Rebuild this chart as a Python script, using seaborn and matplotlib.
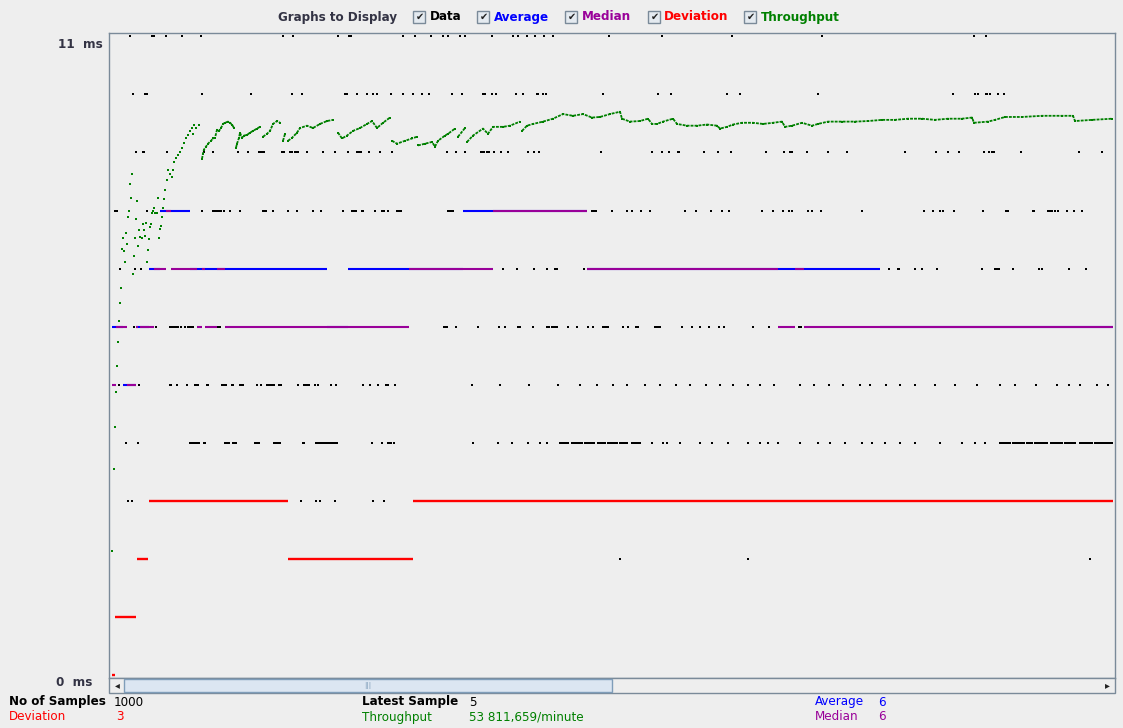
import numpy as np
import pandas as pd
import matplotlib
matplotlib.use("Agg")
import matplotlib.pyplot as plt
from matplotlib.patches import Rectangle
import seaborn as sns

# ---- data read off the JMeter "Graph Results" screenshot ----
# sample index (0..1000) where a black data dot is visible, per elapsed level (ms)
# tuples are inclusive runs of consecutive samples
hits_11ms = [18, 40, 42, 54, 70, 89, 171, 181, 226, 237, 239, 291, 303, 319, 331, 336, 348, 353,
             380, 401, 406, 415, 423, 432, 441, 497, 550, 620, 710, 862, 874]
hits_10ms = [21, 33, 35, 90, 139, 180, 190, (233, 235), 245, 255, 261, 265, 279, 291, 301, 310, 317,
             340, 350, 371, 373, 380, 384, 404, 411, 425, 426, 431, 434, 491, 546, 559, 615, 628,
             706, 841, 863, 866, 874, 875, 878, 886, 892]
hits_9ms = [24, 31, 32, 55, 92, 101, 126, 136, (147, 152), (170, 172), (178, 180), (183, 186), 195,
            211, 223, 236, (245, 249), 257, 268, 280, 335, 344, 353, (369, 372), (375, 377), 382,
            389, 396, 416, 422, 427, 489, 540, 550, 557, 566, 567, 592, 606, 619, 654, 672,
            (678, 680), 695, 716, 735, 793, 824, 836, 847, 872, 877, 880, 882, 909, 967, 990]
hits_8ms = [3, 5, 35, 90, (101, 109), 112, 118, 128, (151, 154), 161, 176, 185, 201, 209, 231,
            (240, 244), (250, 251), 263, 270, 272, 276, (285, 289), (336, 341), (480, 484), 500,
            515, 520, 529, 538, 573, 584, 599, 610, 617, 650, 661, 671, 677, 680, 696, 700, 709,
            750, 812, 821, 828, 831, 842, 871, 894, 896, 921, 922, (936, 940), 943, 946, 955,
            962, 970]
hits_7ms = [8, 23, 29, 391, 405, 422, 435, (443, 445), 472, 777, 786, 787, 803, 810, 825, 870,
            (883, 887), 901, 927, 930, 957, 974]
hits_6ms = [22, 44, 58, 60, 62, 64, 66, 69, 73, 76, 78, 80, 81, (106, 108), (332, 335), 344, 366,
            387, 393, (406, 408), 421, (435, 437), (440, 441), (443, 445), 456, 465, 476, 481,
            (491, 496), 511, 516, 524, 526, (543, 548), 570, 580, 588, 597, 607, 612, 641, 657,
            687, 689]
hits_5ms = [7, 27, 58, 59, 65, 75, 83, 85, 86, 95, 96, (110, 114), (120, 121), (128, 131), 145,
            149, (155, 162), (167, 169), 186, (192, 197), 203, 206, 219, 224, 251, 258, 266,
            (274, 276), 283, 360, 388, 417, 446, 468, 485, 501, 515, 533, 548, 564, 578, 594,
            608, 621, 636, 648, 662, 688, 702, 717, 731, 748, 758, 774, 788, 803, 823, 843, 865,
            888, 903, 924, 945, 957, 968, 985, 996]
hits_4ms = [14, 26, (78, 80), (82, 87), (92, 93), (113, 117), (121, 124), (143, 147), (162, 168),
            (191, 192), (204, 208), (210, 223), 225, 260, 270, (276, 279), 282, 361, 386, 400,
            416, 428, 435, (448, 456), (460, 470), (473, 482), (486, 493), (496, 505), (508, 515),
            (520, 528), 540, 551, 555, 568, 588, 600, 616, 636, 648, 656, 666, 688, 706, 718,
            733, 750, 760, 773, 788, 803, 828, 850, 863, 873, (888, 898), (901, 912), (915, 920),
            (923, 935), (939, 950), (953, 963), (968, 980), (983, 1000)]
hits_3ms = [16, 20, 189, 204, 208, 223, 261, 272]
hits_2ms = [508, 636, 978]

# running statistics as (first sample, last sample, value in ms)
avg_runs = [(0, 4, 6), (4, 11, 6), (11, 15, 5), (15, 24, 5), (24, 28, 6), (28, 37, 6),
            (37, 48, 7), (48, 78, 8), (78, 215, 7), (215, 236, 6), (236, 351, 7),
            (351, 475, 8), (475, 768, 7), (768, 1001, 6)]
median_runs = [(0, 4, 5), (4, 15, 6), (15, 24, 5), (24, 26, 6), (28, 42, 6), (42, 54, 7),
               (54, 59, 8), (59, 85, 7), (85, 90, 6), (90, 93, 7), (93, 105, 6), (105, 113, 7),
               (113, 297, 6), (297, 381, 7), (381, 475, 8), (475, 666, 7), (666, 683, 6),
               (683, 692, 7), (692, 1001, 6)]
deviation_runs = [(0, 3, 0), (3, 24, 1), (25, 36, 2), (37, 176, 3), (176, 301, 2), (301, 1001, 3)]

# throughput, scaled by JMeter onto the ms axis (final value 53 811,659/minute)
thr_sample = [0, 2, 3, 4, 5, 6, 7, 8, 9, 10, 11, 12, 13, 14, 15, 16, 17, 18, 19, 20, 21, 22, 23,
              24, 25, 26, 27, 28, 30, 31, 32, 33, 34, 35, 36, 37, 38, 39, 40, 41, 42, 43, 45, 46,
              47, 48, 49, 50, 51, 52, 53, 55, 56, 58, 60, 61, 62, 64, 66, 68, 70, 72, 74, 76, 78,
              80, 81, 82, 84, 87, 90, 91, 92, 94, 96, 99, 101, 103, 105, 107, 109, 111, 113, 116,
              118, 120, 122, 124, 125, 127, 128, 130, 132, 135, 138, 141, 145, 148, 151, 155,
              158, 161, 165, 168, 171, 173, 176, 180, 185, 188, 195, 201, 208, 215, 221, 226,
              230, 235, 241, 248, 255, 260, 265, 271, 278, 280, 285, 293, 300, 305, 306, 313,
              320, 323, 326, 333, 336, 343, 346, 353, 355, 361, 371, 376, 381, 391, 398, 408,
              410, 415, 421, 431, 441, 451, 461, 471, 480, 488, 498, 508, 510, 518, 528, 536,
              540, 545, 551, 561, 565, 575, 585, 595, 605, 608, 615, 621, 630, 641, 651, 661,
              670, 673, 680, 690, 700, 706, 716, 730, 743, 756, 770, 783, 796, 810, 823, 836,
              850, 860, 862, 876, 883, 893, 910, 930, 950, 961, 963, 980, 1000]
thr_value = [2.14, 3.56, 4.27, 4.87, 5.33, 5.74, 6.10, 6.41, 6.67, 7.33, 7.52, 7.30, 7.11, 7.62,
             7.42, 7.88, 8.00, 8.45, 8.21, 8.62, 6.91, 7.21, 7.52, 7.85, 8.16, 7.39, 7.66, 7.54,
             7.52, 7.76, 7.66, 7.56, 7.78, 7.11, 7.32, 7.51, 7.71, 7.76, 7.95, 8.00, 8.05, 7.95,
             7.95, 8.22, 7.52, 7.69, 7.73, 7.88, 8.04, 8.19, 8.36, 8.53, 8.69, 8.62, 8.57, 8.70,
             8.84, 8.91, 8.96, 9.01, 9.08, 9.17, 9.25, 9.30, 9.37, 9.42, 9.32, 9.48, 9.42, 9.48,
             8.89, 8.98, 9.05, 9.10, 9.15, 9.20, 9.24, 9.25, 9.39, 9.37, 9.42, 9.49, 9.51, 9.53,
             9.51, 9.48, 9.42, 9.08, 9.15, 9.25, 9.34, 9.25, 9.29, 9.30, 9.34, 9.37, 9.41, 9.44,
             9.27, 9.32, 9.37, 9.49, 9.54, 9.51, 9.20, 9.32, 9.20, 9.25, 9.34, 9.42, 9.46, 9.42,
             9.49, 9.54, 9.56, 9.34, 9.24, 9.29, 9.37, 9.42, 9.49, 9.54, 9.42, 9.51, 9.60, 9.20,
             9.15, 9.20, 9.24, 9.27, 9.12, 9.15, 9.18, 9.10, 9.20, 9.29, 9.32, 9.41, 9.27, 9.42,
             9.18, 9.29, 9.41, 9.32, 9.44, 9.44, 9.46, 9.53, 9.37, 9.46, 9.49, 9.53, 9.58, 9.66,
             9.63, 9.66, 9.60, 9.61, 9.66, 9.70, 9.58, 9.53, 9.54, 9.58, 9.49, 9.49, 9.53, 9.58,
             9.49, 9.46, 9.46, 9.48, 9.46, 9.41, 9.44, 9.48, 9.51, 9.51, 9.49, 9.51, 9.53, 9.44,
             9.46, 9.51, 9.46, 9.49, 9.53, 9.53, 9.53, 9.54, 9.56, 9.56, 9.58, 9.58, 9.56, 9.58,
             9.58, 9.60, 9.51, 9.53, 9.56, 9.61, 9.61, 9.63, 9.63, 9.63, 9.54, 9.56, 9.58]

legend_labels = ["Data", "Average", "Median", "Deviation", "Throughput"]


def expand(items):
    out = []
    for it in items:
        if isinstance(it, tuple):
            out.extend(range(it[0], it[1] + 1))
        else:
            out.append(it)
    return out


levels = {11: hits_11ms, 10: hits_10ms, 9: hits_9ms, 8: hits_8ms, 7: hits_7ms,
          6: hits_6ms, 5: hits_5ms, 4: hits_4ms, 3: hits_3ms, 2: hits_2ms}
rows = [(s, ms) for ms, hits in levels.items() for s in expand(hits)]
df_data = pd.DataFrame(rows, columns=["sample", "elapsed"])

df_thr = pd.DataFrame({"sample": thr_sample, "throughput": thr_value})
# break the throughput trace at every sudden drop (sawtooth), like the dotted JMeter trace
late = df_thr[df_thr["sample"] >= 87].copy()
late["segment"] = (late["throughput"].diff() < -0.12).cumsum()

BG = "#eeeeee"
BLACK, BLUE, PURPLE, RED, GREEN = "#000000", "#0000ff", "#990099", "#ff0000", "#008000"
FRAME = "#7a8a99"

sns.set_theme(style="white")
plt.rcParams["font.family"] = ["DejaVu Sans"]

W, H = 1123, 728
fig = plt.figure(figsize=(W / 100, H / 100), dpi=100, facecolor=BG)


def fx(x):
    return x / W


def fy(y):
    return 1 - y / H


ax = fig.add_axes([fx(109), fy(678), (1115 - 109) / W, (678 - 33) / H])
ax.set_facecolor(BG)

# data dots
sns.scatterplot(data=df_data, x="sample", y="elapsed", ax=ax, marker="s", s=2.4,
                color=BLACK, linewidth=0, legend=False, zorder=2)

# average / median / deviation
for s0, s1, v in avg_runs:
    ax.hlines(v, s0, s1, color=BLUE, lw=1.5, zorder=3)
for s0, s1, v in median_runs:
    ax.hlines(v, s0, s1, color=PURPLE, lw=1.5, zorder=4)
for s0, s1, v in deviation_runs:
    ax.hlines(v, s0, s1, color=RED, lw=1.7, zorder=5)

# throughput
sns.lineplot(data=late, x="sample", y="throughput", units="segment", estimator=None, ax=ax,
             color=GREEN, lw=1.3, linestyle=(0, (1.6, 0.6)), sort=True, zorder=6)
sns.scatterplot(data=df_thr, x="sample", y="throughput", ax=ax, marker="s", s=2.8,
                color=GREEN, linewidth=0, legend=False, zorder=6)

ax.set_xlim(-3, 1003)
ax.set_ylim(-0.045, 11.055)
ax.set_xticks([])
ax.set_yticks([])
ax.set_xlabel("")
ax.set_ylabel("")
for sp in ax.spines.values():
    sp.set_color(FRAME)
    sp.set_linewidth(1)

# y labels
fig.text(fx(103), fy(45), "11  ms", ha="right", va="center", fontsize=9.5,
         color="#333344", fontweight="bold", fontstretch="condensed")
fig.text(fx(92), fy(683), "0  ms", ha="right", va="center", fontsize=9.5,
         color="#333344", fontweight="bold", fontstretch="condensed")

# legend row
cond = dict(fontweight="bold", fontstretch="condensed", fontsize=9.5, va="center")
fig.text(fx(278), fy(17), "Graphs to Display", color="#333344", ha="left", **cond)
box_x = [413, 477, 565, 648, 744]
label_x = [430, 494, 582, 664, 761]
colors = [BLACK, BLUE, PURPLE, RED, GREEN]
for bx, lx, lab, c in zip(box_x, label_x, legend_labels, colors):
    fig.patches.append(Rectangle((fx(bx), fy(23)), 12 / W, 12 / H, transform=fig.transFigure,
                                 facecolor="#e4eaf0", edgecolor=FRAME, lw=1))
    fig.text(fx(bx + 6.5), fy(17), "\u2714", ha="center", va="center", fontsize=7, color="#222222")
    fig.text(fx(lx), fy(17), lab, color=c, ha="left", **cond)

# scrollbar
fig.patches.append(Rectangle((fx(109), fy(693)), (1115 - 109) / W, 15 / H,
                             transform=fig.transFigure, facecolor="#eeeeee",
                             edgecolor=FRAME, lw=1))
fig.patches.append(Rectangle((fx(124), fy(692)), (612 - 124) / W, 13 / H,
                             transform=fig.transFigure, facecolor="#dce6f2",
                             edgecolor="#7f9db9", lw=1))
fig.text(fx(117), fy(685.5), "\u25c2", ha="center", va="center", fontsize=7, color="#222222")
fig.text(fx(1107), fy(685.5), "\u25b8", ha="center", va="center", fontsize=7, color="#222222")
fig.text(fx(368), fy(685.5), "|||", ha="center", va="center", fontsize=5, color="#7f9db9")

# statistics
stat = dict(fontsize=9.5, va="center", fontstretch="condensed")
fig.text(fx(9), fy(702), "No of Samples", color=BLACK, fontweight="bold", **stat)
fig.text(fx(114), fy(702), "1000", color=BLACK, **stat)
fig.text(fx(9), fy(717), "Deviation", color=RED, **stat)
fig.text(fx(116), fy(717), "3", color=RED, **stat)
fig.text(fx(362), fy(702), "Latest Sample", color=BLACK, fontweight="bold", **stat)
fig.text(fx(469), fy(702), "5", color=BLACK, **stat)
fig.text(fx(362), fy(717), "Throughput", color=GREEN, **stat)
fig.text(fx(469), fy(717), "53 811,659/minute", color=GREEN, **stat)
fig.text(fx(815), fy(702), "Average", color=BLUE, **stat)
fig.text(fx(878), fy(702), "6", color=BLUE, **stat)
fig.text(fx(815), fy(717), "Median", color=PURPLE, **stat)
fig.text(fx(878), fy(717), "6", color=PURPLE, **stat)

fig.savefig("out.png", dpi=100, facecolor=BG)
